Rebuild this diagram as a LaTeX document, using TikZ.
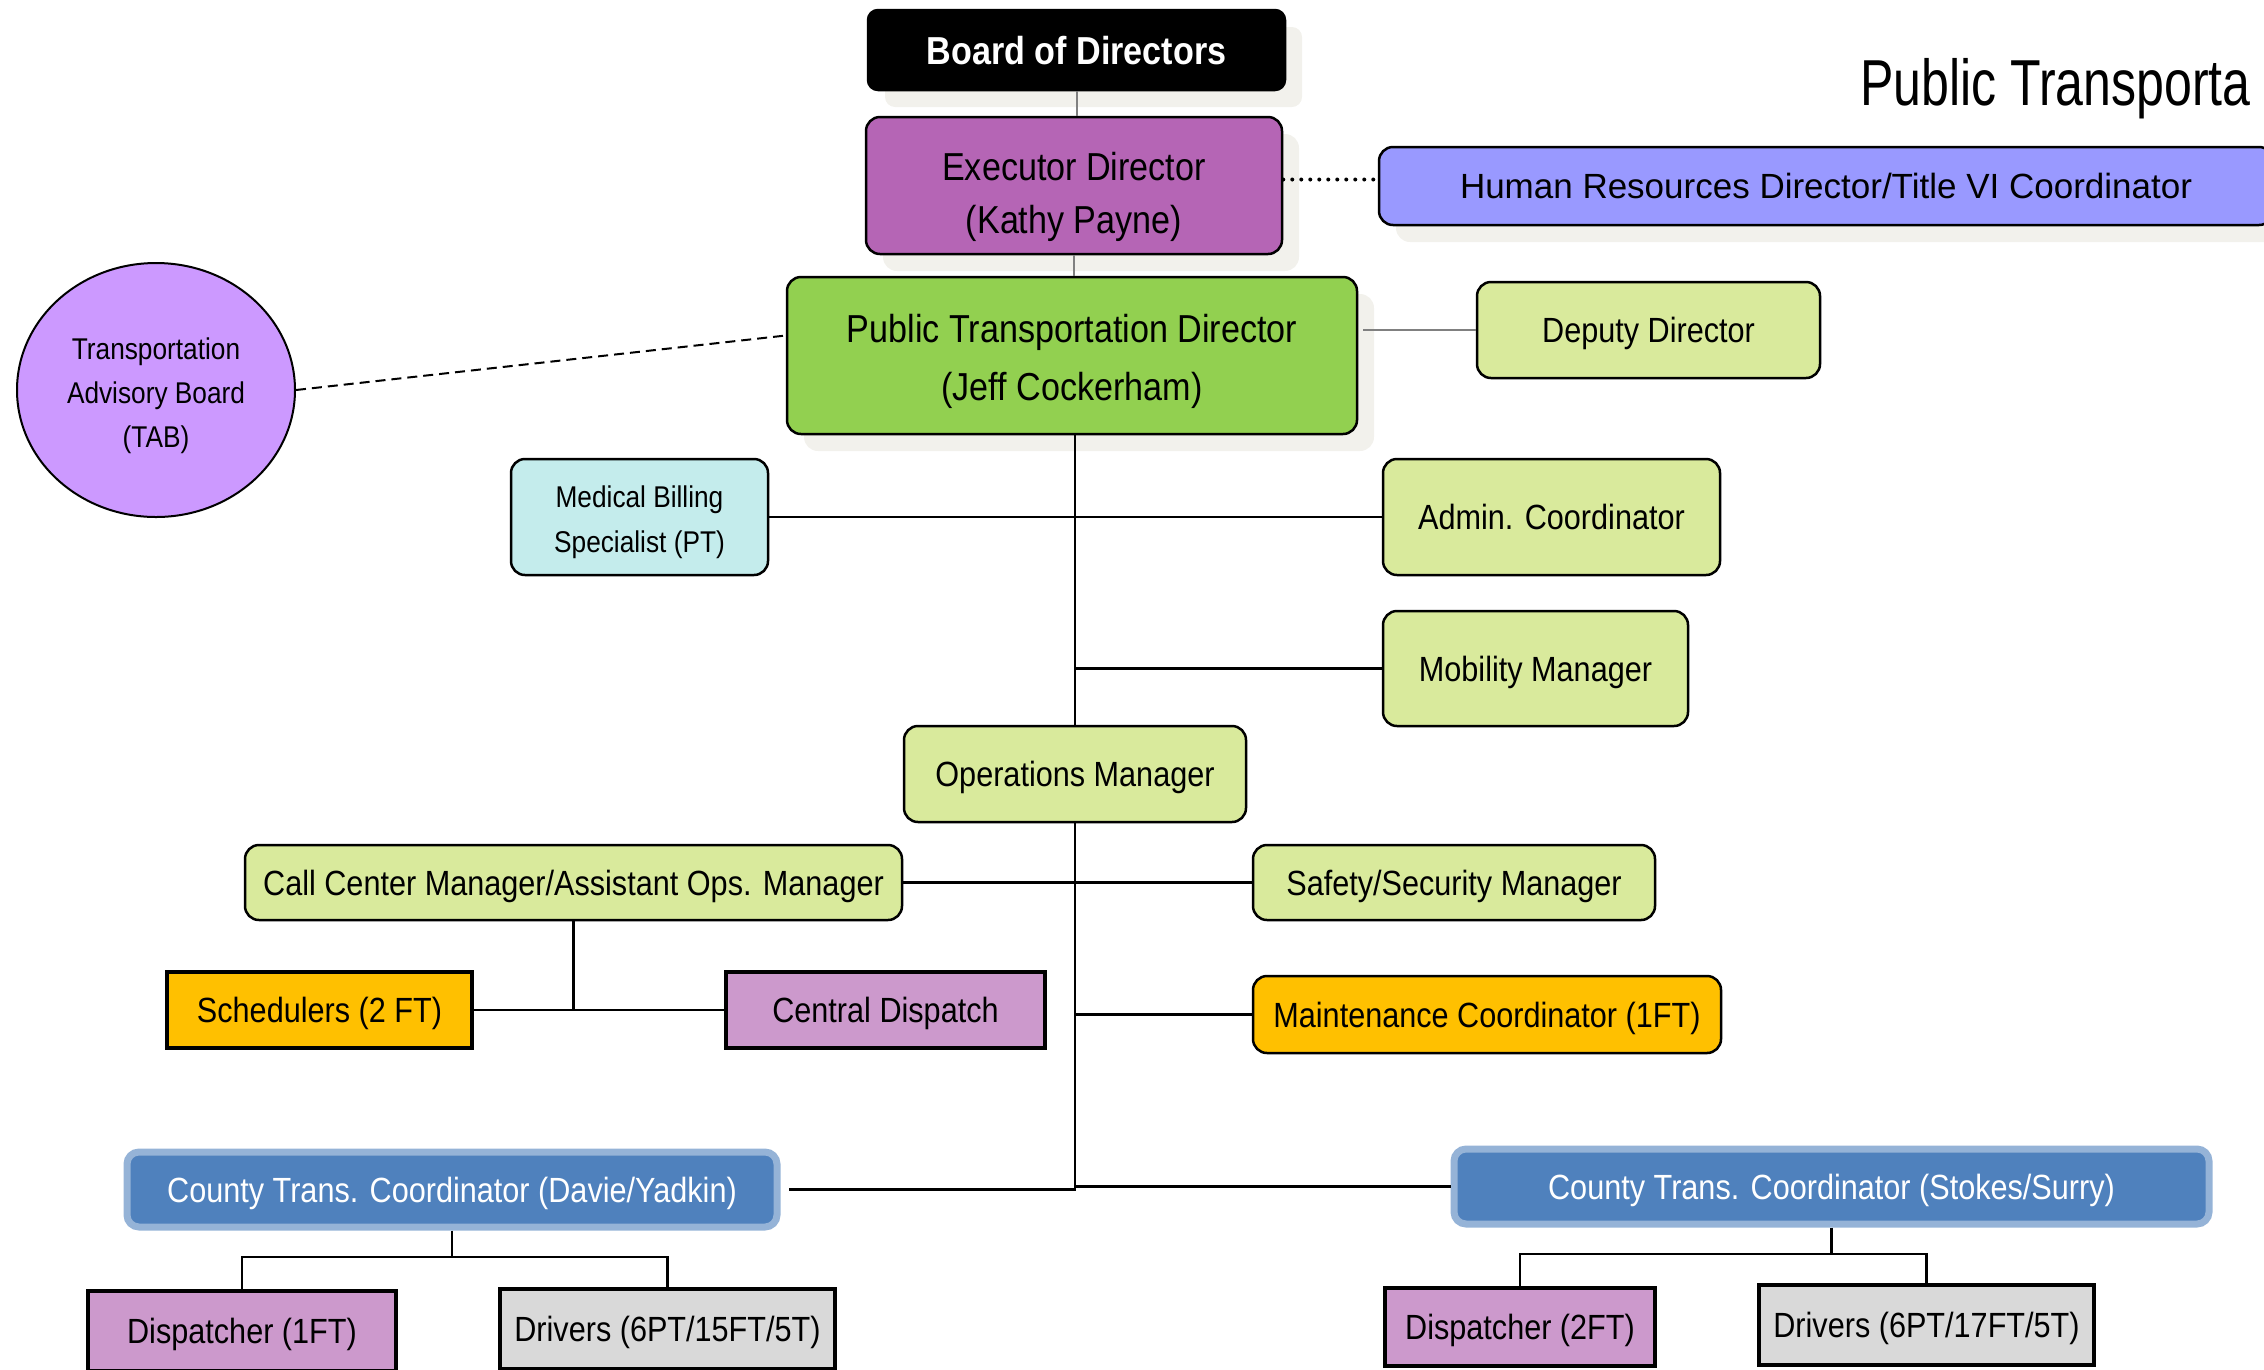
\documentclass[tikz,border=0pt]{standalone}
\usepackage{fontspec}
\setmainfont{Liberation Sans}[FakeStretch=0.875]
\newfontfamily\widefont{Liberation Sans}
\newfontfamily\titlefont{Liberation Sans}[FakeStretch=0.77]
\usepackage{tikz}
\usetikzlibrary{shapes.geometric}
\usetikzlibrary{shadows}
\definecolor{shadowgray}{HTML}{F2F1EC}
\definecolor{execpurple}{HTML}{B565B5}
\definecolor{hrblue}{HTML}{9999FF}
\definecolor{ptdgreen}{HTML}{92D050}
\definecolor{lightgreen}{HTML}{D9EA9C}
\definecolor{tabviolet}{HTML}{CC99FF}
\definecolor{billingcyan}{HTML}{C4ECEC}
\definecolor{amber}{HTML}{FFC000}
\definecolor{dispatchpink}{HTML}{CC99CC}
\definecolor{drivergray}{HTML}{D9D9D9}
\definecolor{countyblue}{HTML}{4F81BD}
\definecolor{countyedge}{HTML}{95B3D7}
\definecolor{linegray}{HTML}{808080}
\tikzstyle{org box} = [rectangle, draw = black, line width = 2.5pt, rounded corners = 14pt, inner sep = 0pt, align = center, font = \fontsize{35}{42}\selectfont, text height = 25pt, text depth = 0pt]
\tikzstyle{raised} = [drop shadow = {shadow xshift = 17pt, shadow yshift = -17pt, fill = shadowgray, opacity = 1}]
\tikzstyle{green box} = [org box, fill = lightgreen]
\tikzstyle{flat box} = [org box, rounded corners = 0pt, line width = 4pt]
\tikzstyle{county box} = [org box, draw = countyedge, line width = 7pt, rounded corners = 12pt, fill = countyblue, text = white]
\tikzstyle{link} = [line width = 2.5pt]
\tikzstyle{gray link} = [line width = 2pt, draw = linegray]
\tikzstyle{chart picture} = [x = 1pt, y = -1pt]
\begin{document}
\begin{tikzpicture}[chart picture]
            \useasboundingbox (0, 0) rectangle (2264, 1369);
            \clip (0, 0) rectangle (2264, 1369);
            \node [anchor = base west, inner sep = 0pt, font = \titlefont\fontsize{65}{78}\selectfont] (title) at (1860, 105) {Public Transporta};
            \node [org box, raised, fill = black, text = white, font = \bfseries\fontsize{39}{47}\selectfont, text height = 28pt, rounded corners = 10pt, minimum width = 417, minimum height = 80] (board) at (1076.5, 50) {Board of Directors};
            \node [org box, raised, fill = execpurple, font = \fontsize{39}{53}\selectfont, text height = 95pt, minimum width = 416, minimum height = 137] (exec) at (1074, 185.5) {Executor Director\\(Kathy Payne)};
            \node [org box, raised, fill = hrblue, font = \widefont\fontsize{35}{42}\selectfont, minimum width = 894, minimum height = 78] (hr) at (1826, 186) {Human Resources Director/Title VI Coordinator};
            \node [org box, raised, fill = ptdgreen, font = \fontsize{39}{58}\selectfont, text height = 89pt, minimum width = 570, minimum height = 157] (ptd) at (1072, 355.5) {Public Transportation Director\\(Jeff Cockerham)};
            \node [green box, minimum width = 343, minimum height = 96] (deputy) at (1648.5, 330) {Deputy Director};
            \node [ellipse, draw, line width = 2pt, fill = tabviolet, inner sep = 0pt, align = center, font = \fontsize{30}{44}\selectfont, text height = 114pt, text depth = 0pt, minimum width = 278, minimum height = 254] (tab) at (156, 390) {Transportation\\Advisory Board\\(TAB)};
            \node [org box, fill = billingcyan, font = \fontsize{30}{45}\selectfont, text height = 70pt, minimum width = 257, minimum height = 116] (billing) at (639.5, 517) {Medical Billing\\Specialist (PT)};
            \node [green box, minimum width = 337, minimum height = 116] (admin) at (1551.5, 517) {Admin. Coordinator};
            \node [green box, minimum width = 305, minimum height = 115] (mobility) at (1535.5, 668.5) {Mobility Manager};
            \node [green box, minimum width = 342, minimum height = 96] (ops) at (1075, 774) {Operations Manager};
            \node [green box, minimum width = 657, minimum height = 75] (callcenter) at (573.5, 882.5) {Call Center Manager/Assistant Ops. Manager};
            \node [green box, minimum width = 402, minimum height = 75] (safety) at (1454, 882.5) {Safety/Security Manager};
            \node [flat box, fill = amber, minimum width = 305, minimum height = 76] (schedulers) at (319.5, 1010) {Schedulers (2 FT)};
            \node [flat box, fill = dispatchpink, minimum width = 319, minimum height = 76] (central) at (885.5, 1010) {Central Dispatch};
            \node [org box, fill = amber, minimum width = 468, minimum height = 77] (maint) at (1487, 1014.5) {Maintenance Coordinator (1FT)};
            \node [county box, minimum width = 650, minimum height = 75] (davie) at (452, 1189.5) {County Trans. Coordinator (Davie/Yadkin)};
            \node [county box, minimum width = 755, minimum height = 75] (stokes) at (1831.5, 1186.5) {County Trans. Coordinator (Stokes/Surry)};
            \node [flat box, fill = dispatchpink, minimum width = 308, minimum height = 80] (davie-disp) at (242, 1331) {Dispatcher (1FT)};
            \node [flat box, fill = drivergray, minimum width = 335, minimum height = 80] (davie-drv) at (667.5, 1329) {Drivers (6PT/15FT/5T)};
            \node [flat box, fill = dispatchpink, minimum width = 270, minimum height = 78] (stokes-disp) at (1520, 1327) {Dispatcher (2FT)};
            \node [flat box, fill = drivergray, minimum width = 335, minimum height = 80] (stokes-drv) at (1926.5, 1325) {Drivers (6PT/17FT/5T)};
            \draw [gray link] (board.south) -- (board.south |- exec.north);
            \draw [gray link] (exec.south) -- (exec.south |- ptd.north);
            \draw [gray link] ([xshift = 5pt]deputy.west -| ptd.east) -- (deputy.west);
            \draw [line width = 4pt, line cap = round, dash pattern = on 0pt off 9pt] ([yshift = 6pt]exec.east) -- ([yshift = 6pt]exec.east -| hr.west);
            \draw [line width = 2pt, dash pattern = on 10pt off 6pt] (tab.east) -- ([yshift = 20pt]ptd.west);
            \draw [link] (ptd.south -| ops.north) -- (ops.north);
            \draw [link] (billing.east) -- (admin.west);
            \draw [link] (callcenter.east) -- (safety.west);
            \draw [link] (callcenter.south) -- (callcenter.south |- schedulers.east);
            \draw [link] (schedulers.east) -- (central.west);
            \foreach \n in {mobility, maint}
            {
                \draw [link] (\n.west) -- (\n.west -| ops.south);
            }
            \draw [link] (ops.south) -- (ops.south |- davie.east) -- ([xshift = 8pt]davie.east);
            \draw [link] (stokes.west) -- (stokes.west -| ops.south);
            \foreach \c in {davie, stokes}
            {
                \draw [link] (\c-disp.north) -- ++(0, -32) coordinate (\c-bar) -| (\c-drv.north);
                \draw [link] (\c.south) -- (\c.south |- \c-bar);
            }
        \end{tikzpicture}
\end{document}
